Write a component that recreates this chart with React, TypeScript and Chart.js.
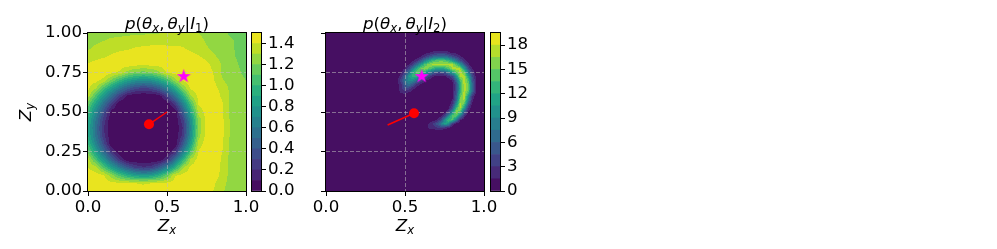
import React, { useEffect, useRef } from "react";
import { Chart, registerables } from "chart.js";

Chart.register(...registerables);

/* ---------------- data ---------------- */
const X_TICKS = [0, 0.5, 1.0];
const Y_TICKS = [0, 0.25, 0.5, 0.75, 1.0];
const CB1_TICKS = [0, 0.2, 0.4, 0.6, 0.8, 1.0, 1.2, 1.4];
const CB2_TICKS = [0, 3, 6, 9, 12, 15, 18];

const P1_LEVELS = [0, 0.1, 0.2, 0.3, 0.4, 0.5, 0.6, 0.7, 0.8, 0.9, 1.0, 1.1, 1.2, 1.3, 1.4, 1.5];
const P2_LEVELS = [0, 1.5, 3, 4.5, 6, 7.5, 9, 10.5, 12, 13.5, 15, 16.5, 18, 19.5];

// panel 1 grid (x left->right, y top->bottom)
const P1_XS = [0, 0.05, 0.1, 0.15, 0.2, 0.25, 0.3, 0.35, 0.4, 0.45, 0.5, 0.55, 0.6, 0.65, 0.7, 0.75, 0.8, 0.85, 0.9, 0.95, 1.0];
const P1_YS = [1.0, 0.95, 0.9, 0.85, 0.8, 0.75, 0.7, 0.65, 0.6, 0.55, 0.5, 0.45, 0.4, 0.35, 0.3, 0.25, 0.2, 0.15, 0.1, 0.05, 0];
const P1_Z = [
  [1.24, 1.25, 1.26, 1.27, 1.27, 1.28, 1.28, 1.285, 1.29, 1.295, 1.31, 1.33, 1.34, 1.33, 1.30, 1.27, 1.25, 1.22, 1.19, 1.17, 1.15],
  [1.27, 1.285, 1.30, 1.32, 1.33, 1.34, 1.35, 1.36, 1.36, 1.37, 1.37, 1.37, 1.37, 1.36, 1.33, 1.29, 1.26, 1.23, 1.21, 1.19, 1.17],
  [1.29, 1.32, 1.34, 1.36, 1.38, 1.39, 1.41, 1.42, 1.43, 1.43, 1.42, 1.42, 1.41, 1.38, 1.35, 1.31, 1.28, 1.25, 1.21, 1.19, 1.17],
  [1.35, 1.37, 1.39, 1.42, 1.44, 1.46, 1.47, 1.47, 1.47, 1.47, 1.47, 1.46, 1.45, 1.44, 1.41, 1.37, 1.31, 1.27, 1.22, 1.19, 1.17],
  [1.41, 1.44, 1.46, 1.47, 1.46, 1.45, 1.43, 1.42, 1.43, 1.44, 1.46, 1.48, 1.48, 1.47, 1.46, 1.43, 1.36, 1.29, 1.25, 1.20, 1.18],
  [1.46, 1.47, 1.46, 1.43, 1.38, 1.26, 1.19, 1.16, 1.19, 1.28, 1.41, 1.44, 1.46, 1.48, 1.48, 1.45, 1.39, 1.28, 1.24, 1.21, 1.18],
  [1.45, 1.43, 1.37, 1.17, 0.99, 0.85, 0.76, 0.72, 0.75, 0.86, 1.02, 1.26, 1.42, 1.46, 1.48, 1.48, 1.40, 1.31, 1.26, 1.23, 1.20],
  [1.42, 1.31, 1.05, 0.82, 0.61, 0.44, 0.33, 0.28, 0.32, 0.44, 0.64, 0.89, 1.21, 1.42, 1.46, 1.48, 1.43, 1.36, 1.28, 1.24, 1.20],
  [1.35, 1.06, 0.77, 0.51, 0.26, 0.06, 0, 0, 0, 0.03, 0.26, 0.55, 0.91, 1.29, 1.43, 1.47, 1.46, 1.38, 1.29, 1.25, 1.22],
  [1.15, 0.85, 0.54, 0.25, 0, 0, 0, 0, 0, 0, 0, 0.24, 0.63, 1.06, 1.41, 1.46, 1.48, 1.41, 1.28, 1.25, 1.23],
  [1.02, 0.69, 0.36, 0.04, 0, 0, 0, 0, 0, 0, 0, 0, 0.41, 0.88, 1.34, 1.44, 1.48, 1.42, 1.28, 1.25, 1.23],
  [0.92, 0.59, 0.25, 0, 0, 0, 0, 0, 0, 0, 0, 0, 0.26, 0.74, 1.24, 1.43, 1.47, 1.42, 1.29, 1.25, 1.23],
  [0.89, 0.55, 0.20, 0, 0, 0, 0, 0, 0, 0, 0, 0, 0.20, 0.70, 1.24, 1.44, 1.48, 1.42, 1.29, 1.26, 1.24],
  [0.91, 0.57, 0.23, 0, 0, 0, 0, 0, 0, 0, 0, 0, 0.24, 0.73, 1.26, 1.44, 1.48, 1.42, 1.29, 1.26, 1.24],
  [0.99, 0.66, 0.33, 0, 0, 0, 0, 0, 0, 0, 0, 0, 0.38, 0.85, 1.35, 1.45, 1.48, 1.42, 1.28, 1.26, 1.24],
  [1.15, 0.83, 0.51, 0.20, 0, 0, 0, 0, 0, 0, 0, 0.18, 0.61, 1.05, 1.41, 1.46, 1.48, 1.40, 1.28, 1.25, 1.23],
  [1.35, 1.05, 0.76, 0.47, 0.20, 0, 0, 0, 0, 0, 0.18, 0.52, 0.92, 1.32, 1.44, 1.47, 1.48, 1.38, 1.27, 1.25, 1.23],
  [1.40, 1.34, 1.08, 0.83, 0.60, 0.41, 0.27, 0.21, 0.25, 0.41, 0.64, 0.93, 1.28, 1.42, 1.46, 1.48, 1.47, 1.37, 1.27, 1.25, 1.23],
  [1.45, 1.44, 1.41, 1.24, 1.06, 0.92, 0.82, 0.78, 0.81, 0.94, 1.13, 1.39, 1.43, 1.46, 1.48, 1.48, 1.46, 1.36, 1.27, 1.24, 1.22],
  [1.47, 1.47, 1.45, 1.43, 1.41, 1.40, 1.40, 1.39, 1.40, 1.40, 1.42, 1.44, 1.46, 1.48, 1.48, 1.46, 1.41, 1.34, 1.26, 1.24, 1.22],
  [1.46, 1.47, 1.47, 1.46, 1.45, 1.44, 1.44, 1.44, 1.44, 1.45, 1.46, 1.47, 1.48, 1.48, 1.47, 1.45, 1.39, 1.31, 1.26, 1.24, 1.22],
];

// panel 2 grid block (values outside the block are 0)
const P2_XS = [0.4, 0.425, 0.45, 0.475, 0.5, 0.525, 0.55, 0.575, 0.6, 0.625, 0.65, 0.675, 0.7, 0.725, 0.75, 0.775, 0.8, 0.825, 0.85, 0.875, 0.9, 0.925, 0.95, 0.975, 1.0];
const P2_YS = [0.9, 0.875, 0.85, 0.825, 0.8, 0.775, 0.75, 0.725, 0.7, 0.675, 0.65, 0.625, 0.6, 0.575, 0.55, 0.525, 0.5, 0.475, 0.45, 0.425, 0.4, 0.375, 0.35];
const P2_Z = [
  [0, 0, 0, 0, 0, 0, 0, 0, 0, 0, 0, 0.4, 0.6, 0.7, 0.6, 0.4, 0, 0, 0, 0, 0, 0, 0, 0, 0],
  [0, 0, 0, 0, 0, 0, 0, 0, 0.3, 0.8, 1.3, 2, 2.4, 2.5, 2.4, 2, 1.2, 1, 0.5, 0, 0, 0, 0, 0, 0],
  [0, 0, 0, 0, 0, 0, 0.2, 0.6, 1.5, 2.9, 4.6, 6, 7.1, 7.4, 7.2, 5.9, 4.5, 3.2, 1.8, 0.7, 0.1, 0, 0, 0, 0],
  [0, 0, 0, 0, 0, 0.4, 1.1, 2.5, 4.8, 8.2, 10.9, 13.3, 14.3, 14.7, 14.3, 12.9, 10.7, 7.6, 4.6, 2, 0.6, 0.1, 0, 0, 0],
  [0, 0, 0, 0, 0.5, 1.5, 3.6, 6.9, 10.5, 13.9, 16, 16.8, 16.8, 16.8, 17.1, 17.1, 16.9, 14.4, 10.6, 5.7, 2, 0.4, 0, 0, 0],
  [0, 0, 0, 0.4, 1.6, 3.9, 8, 12.2, 15, 16, 14.9, 13, 11.5, 10.9, 12, 14.2, 16.6, 17.3, 16.4, 10.7, 4.6, 1.3, 0.2, 0, 0],
  [0, 0, 0.3, 1.2, 3.7, 7.7, 12.2, 14.6, 14.3, 12, 8.6, 6.1, 4.6, 4.3, 4.9, 7.2, 10.9, 14.6, 17.3, 15.1, 8.2, 2.9, 0.6, 0, 0],
  [0, 0.1, 0.6, 2.4, 5.8, 10.3, 12.7, 12.3, 9.1, 5.9, 3.5, 1.8, 1.1, 0.9, 1.2, 2.3, 4.3, 10, 16.6, 17.2, 11.8, 4.6, 1, 0.2, 0],
  [0, 0.2, 1.2, 3.6, 7.3, 9.8, 9.4, 6.7, 4.2, 1.9, 0.9, 0.3, 0.1, 0.1, 0.2, 0.5, 1.8, 6.2, 13.9, 17.4, 13.9, 5.9, 1.5, 0.2, 0],
  [0.1, 0.3, 0.7, 2.6, 6, 7.3, 5.2, 2.7, 1.1, 0.4, 0, 0, 0, 0, 0, 0.2, 0.9, 4.6, 12.6, 17.4, 14.8, 6.8, 1.4, 0.3, 0],
  [0, 0.1, 0.6, 2.6, 4.6, 3.9, 2.1, 0.8, 0.2, 0, 0, 0, 0, 0, 0, 0, 0.7, 4.4, 12, 17.4, 14.9, 7.2, 1.4, 0.2, 0],
  [0, 0.1, 0.8, 1.8, 2.2, 1.5, 0.6, 0, 0, 0, 0, 0, 0, 0, 0, 0.1, 1, 5, 12.7, 17.4, 14.3, 6.4, 1.2, 0.2, 0],
  [0, 0, 0, 0.3, 0.4, 0.2, 0, 0, 0, 0, 0, 0, 0, 0, 0, 0, 1.1, 5.7, 14.6, 17.2, 10.2, 2.9, 0.4, 0, 0],
  [0, 0, 0, 0, 0, 0, 0, 0, 0, 0, 0, 0, 0, 0, 0, 0.2, 1.5, 6.7, 15.5, 16.9, 8.6, 2, 0.2, 0, 0],
  [0, 0, 0, 0, 0, 0, 0, 0, 0, 0, 0, 0, 0, 0, 0, 0.3, 2.6, 9.3, 17, 14.3, 5.8, 1.1, 0.1, 0, 0],
  [0, 0, 0, 0, 0, 0, 0, 0, 0, 0, 0, 0, 0, 0, 0, 1, 4.9, 13.4, 17, 10.5, 2.9, 0.4, 0, 0, 0],
  [0, 0, 0, 0, 0, 0, 0, 0, 0, 0, 0, 0, 0, 0, 0.6, 3.3, 9.6, 16.1, 13.8, 5.7, 1, 0, 0, 0, 0],
  [0, 0, 0, 0, 0, 0, 0, 0, 0, 0, 0, 0, 0, 0.8, 3.5, 8.9, 14.6, 14.5, 8.4, 2.3, 0.3, 0, 0, 0, 0],
  [0, 0, 0, 0, 0, 0, 0, 0, 0, 0, 0.3, 0.7, 1.5, 3.6, 8.7, 13.6, 13.6, 7.5, 1.6, 0.2, 0, 0, 0, 0, 0],
  [0, 0, 0, 0, 0, 0, 0, 0, 0, 0.1, 1.6, 2.9, 4.9, 7.8, 10.9, 10.1, 3, 0.6, 0, 0, 0, 0, 0, 0, 0],
  [0, 0, 0, 0, 0, 0, 0, 0, 0, 0.5, 1.8, 2.3, 2.8, 3, 2.5, 1.2, 0.3, 0, 0, 0, 0, 0, 0, 0, 0],
  [0, 0, 0, 0, 0, 0, 0, 0, 0, 0, 0, 0, 0, 0, 0, 0, 0, 0, 0, 0, 0, 0, 0, 0, 0],
  [0, 0, 0, 0, 0, 0, 0, 0, 0, 0, 0, 0, 0, 0, 0, 0, 0, 0, 0, 0, 0, 0, 0, 0, 0],
];

// markers
const P1_SEGMENT = [{ x: 0.386, y: 0.422 }, { x: 0.5, y: 0.5 }];
const P1_DOT = [{ x: 0.386, y: 0.422 }];
const P2_SEGMENT = [{ x: 0.39, y: 0.418 }, { x: 0.557, y: 0.492 }];
const P2_DOT = [{ x: 0.557, y: 0.492 }];
const STAR = [{ x: 0.606, y: 0.73 }];

// texts (mathtext-like segments)
type Seg = { t: string; it?: boolean; sub?: boolean; gap?: number };
const TITLE_1: Seg[] = [
  { t: "p", it: true }, { t: "(" }, { t: "θ", it: true }, { t: "x", it: true, sub: true }, { t: ",", gap: 3 },
  { t: "θ", it: true }, { t: "y", it: true, sub: true }, { t: "|" }, { t: "I", it: true }, { t: "1", sub: true }, { t: ")" },
];
const TITLE_2: Seg[] = [
  { t: "p", it: true }, { t: "(" }, { t: "θ", it: true }, { t: "x", it: true, sub: true }, { t: ",", gap: 3 },
  { t: "θ", it: true }, { t: "y", it: true, sub: true }, { t: "|" }, { t: "I", it: true }, { t: "2", sub: true }, { t: ")" },
];
const X_LABEL: Seg[] = [{ t: "Z", it: true }, { t: "x", it: true, sub: true }];
const Y_LABEL: Seg[] = [{ t: "Z", it: true }, { t: "y", it: true, sub: true }];

/* ---------------- styling helpers ---------------- */
const FS = 16.67;
const FAMILY = '"DejaVu Sans", sans-serif';
const FONT = { family: FAMILY, size: FS };
const GRID_COLOR = "rgba(190,190,190,0.55)";

const VIRIDIS = [
  "#440154", "#48186a", "#472d7b", "#424086", "#3b528b", "#33638d", "#2c728e", "#26828e", "#21918c",
  "#1fa088", "#28ae80", "#3fbc73", "#5ec962", "#84d44b", "#addc30", "#d8e219", "#fde725",
];
const VIR_RGB = VIRIDIS.map((h) => [parseInt(h.slice(1, 3), 16), parseInt(h.slice(3, 5), 16), parseInt(h.slice(5, 7), 16)]);
function viridis(t: number) {
  const tt = Math.max(0, Math.min(1, t));
  const n = VIR_RGB.length - 1;
  const f = tt * n;
  const i = Math.min(Math.floor(f), n - 1);
  const u = f - i;
  const a = VIR_RGB[i];
  const b = VIR_RGB[i + 1];
  return `rgb(${Math.round(a[0] + (b[0] - a[0]) * u)},${Math.round(a[1] + (b[1] - a[1]) * u)},${Math.round(a[2] + (b[2] - a[2]) * u)})`;
}
function bandColors(levels: number[]) {
  const nb = levels.length - 1;
  return Array.from({ length: nb }, (_, k) => viridis((k + 0.5) / nb));
}
function bandIndex(v: number, levels: number[]) {
  const nb = levels.length - 1;
  for (let k = nb - 1; k >= 1; k--) if (v >= levels[k]) return k;
  return 0;
}
function makeSampler(xs: number[], ys: number[], z: number[][]) {
  const nx = xs.length;
  const ny = ys.length;
  const dx = xs[1] - xs[0];
  const dy = ys[0] - ys[1];
  return (x: number, y: number) => {
    if (x < xs[0] || x > xs[nx - 1] || y > ys[0] || y < ys[ny - 1]) return 0;
    const fi = (x - xs[0]) / dx;
    const fj = (ys[0] - y) / dy;
    const i = Math.min(Math.floor(fi), nx - 2);
    const j = Math.min(Math.floor(fj), ny - 2);
    const u = fi - i;
    const w = fj - j;
    return (
      z[j][i] * (1 - u) * (1 - w) + z[j][i + 1] * u * (1 - w) + z[j + 1][i] * (1 - u) * w + z[j + 1][i + 1] * u * w
    );
  };
}

function drawMath(ctx: CanvasRenderingContext2D, segs: Seg[], x: number, y: number, size: number, rotate = false) {
  const font = (s: Seg) => `${s.it ? "italic " : ""}${s.sub ? size * 0.7 : size}px ${FAMILY}`;
  const widths = segs.map((s) => {
    ctx.font = font(s);
    return ctx.measureText(s.t).width + (s.gap || 0);
  });
  const total = widths.reduce((a, b) => a + b, 0);
  ctx.save();
  ctx.translate(x, y);
  if (rotate) ctx.rotate(-Math.PI / 2);
  ctx.fillStyle = "#000";
  ctx.textAlign = "left";
  ctx.textBaseline = "alphabetic";
  let cx = -total / 2;
  segs.forEach((s, i) => {
    ctx.font = font(s);
    ctx.fillText(s.t, cx, s.sub ? size * 0.2 : 0);
    cx += widths[i];
  });
  ctx.restore();
}

function makeStar(r: number, color: string) {
  const size = Math.ceil(r * 2 + 2);
  const c = document.createElement("canvas");
  c.width = size;
  c.height = size;
  const g = c.getContext("2d")!;
  g.translate(size / 2, size / 2 + r * 0.1);
  g.beginPath();
  for (let k = 0; k < 10; k++) {
    const rad = k % 2 === 0 ? r : r * 0.382;
    const ang = -Math.PI / 2 + (k * Math.PI) / 5;
    g.lineTo(rad * Math.cos(ang), rad * Math.sin(ang));
  }
  g.closePath();
  g.fillStyle = color;
  g.fill();
  return c;
}

function contourPlugin(levels: number[], sample: (x: number, y: number) => number) {
  const colors = bandColors(levels);
  return {
    id: "contourf",
    beforeDraw(chart: any) {
      const { ctx, chartArea: a, scales } = chart;
      const sx = scales.x;
      const sy = scales.y;
      ctx.save();
      const L = Math.round(a.left);
      const R = Math.round(a.right);
      const T = Math.round(a.top);
      const B = Math.round(a.bottom);
      for (let py = T; py < B; py++) {
        const vy = sy.getValueForPixel(py + 0.5);
        let runStart = L;
        let runColor: string | null = null;
        for (let px = L; px <= R; px++) {
          let col: string | null = null;
          if (px < R) {
            const vx = sx.getValueForPixel(px + 0.5);
            col = colors[bandIndex(sample(vx, vy), levels)];
          }
          if (col !== runColor) {
            if (runColor) {
              ctx.fillStyle = runColor;
              ctx.fillRect(runStart, py, px - runStart, 1);
            }
            runColor = col;
            runStart = px;
          }
        }
      }
      ctx.restore();
    },
  };
}

function decoPlugin(title: Seg[], showYLabel: boolean) {
  return {
    id: "deco",
    afterDraw(chart: any) {
      const { ctx, chartArea: a } = chart;
      ctx.save();
      ctx.strokeStyle = "#000";
      ctx.lineWidth = 1;
      ctx.strokeRect(a.left - 0.5, a.top - 0.5, a.right - a.left + 1, a.bottom - a.top + 1);
      ctx.restore();
      const cx = (a.left + a.right) / 2;
      drawMath(ctx, title, cx, 28.5, FS);
      drawMath(ctx, X_LABEL, cx, 231, FS);
      if (showYLabel) drawMath(ctx, Y_LABEL, 31, (a.top + a.bottom) / 2, FS, true);
    },
  };
}

function frameOnly() {
  return {
    id: "frame",
    afterDraw(chart: any) {
      const { ctx, chartArea: a } = chart;
      ctx.save();
      ctx.strokeStyle = "#000";
      ctx.lineWidth = 1;
      ctx.strokeRect(a.left - 0.5, a.top - 0.5, a.right - a.left + 1, a.bottom - a.top + 1);
      ctx.restore();
    },
  };
}

const edgeAwareGrid = (ctx: any) => {
  const v = ctx.tick ? ctx.tick.value : null;
  return v === 0 || v === 1 ? "rgba(0,0,0,0)" : GRID_COLOR;
};

function heatConfig(p: {
  levels: number[];
  sample: (x: number, y: number) => number;
  segment: { x: number; y: number }[];
  dot: { x: number; y: number }[];
  star: { x: number; y: number }[];
  starImg: HTMLCanvasElement;
  title: Seg[];
  yLabels: boolean;
  yWidth: number;
}): any {
  return {
    type: "scatter",
    data: {
      datasets: [
        { data: p.segment, showLine: true, borderColor: "#ff0000", borderWidth: 1.5, pointRadius: 0, order: 3 },
        { data: p.dot, pointRadius: 5, backgroundColor: "#ff0000", borderWidth: 0, order: 2 },
        { data: p.star, pointStyle: p.starImg, pointRadius: 7, order: 1 },
      ],
    },
    options: {
      animation: false,
      responsive: false,
      events: [],
      layout: { autoPadding: false, padding: { top: 33, right: 20, left: 0, bottom: 0 } },
      plugins: { legend: { display: false }, tooltip: { enabled: false }, title: { display: false } },
      scales: {
        x: {
          type: "linear",
          position: "bottom",
          min: 0,
          max: 1,
          afterBuildTicks: (s: any) => {
            s.ticks = X_TICKS.map((v) => ({ value: v }));
          },
          afterFit: (s: any) => {
            s.height = 58;
          },
          ticks: {
            font: FONT,
            color: "#000",
            padding: 2,
            maxRotation: 0,
            autoSkip: false,
            callback: (v: any) => Number(v).toFixed(1),
          },
          grid: { color: edgeAwareGrid, lineWidth: 1, drawTicks: true, tickLength: 5, tickColor: "#000", tickWidth: 1 },
          border: { display: false, dash: [4, 2] },
        },
        y: {
          type: "linear",
          position: "left",
          min: 0,
          max: 1,
          afterBuildTicks: (s: any) => {
            s.ticks = Y_TICKS.map((v) => ({ value: v }));
          },
          afterFit: (s: any) => {
            s.width = p.yWidth;
          },
          ticks: {
            display: p.yLabels,
            font: FONT,
            color: "#000",
            padding: 1,
            autoSkip: false,
            callback: (v: any) => Number(v).toFixed(2),
          },
          grid: { color: edgeAwareGrid, lineWidth: 1, drawTicks: true, tickLength: 5, tickColor: "#000", tickWidth: 1 },
          border: { display: false, dash: [4, 2] },
        },
      },
    },
    plugins: [contourPlugin(p.levels, p.sample), decoPlugin(p.title, p.yLabels)],
  };
}

function colorbarConfig(levels: number[], ticks: number[], fmt: (v: number) => string): any {
  const colors = bandColors(levels);
  const datasets = colors.map((c, k) => ({
    data: [[levels[k], levels[k + 1]]],
    backgroundColor: c,
    borderWidth: 0,
    barPercentage: 1,
    categoryPercentage: 1,
    grouped: false,
  }));
  return {
    type: "bar",
    data: { labels: ["cb"], datasets },
    options: {
      animation: false,
      responsive: false,
      events: [],
      layout: { autoPadding: false, padding: { top: 33, right: 0, left: 6, bottom: 58 } },
      plugins: { legend: { display: false }, tooltip: { enabled: false } },
      scales: {
        x: { display: false },
        y: {
          position: "right",
          min: levels[0],
          max: levels[levels.length - 1],
          afterBuildTicks: (s: any) => {
            s.ticks = ticks.map((v) => ({ value: v }));
          },
          afterFit: (s: any) => {
            s.width = 45;
          },
          ticks: { font: FONT, color: "#000", padding: 2, autoSkip: false, callback: (v: any) => fmt(Number(v)) },
          grid: { drawOnChartArea: false, drawTicks: true, tickLength: 5, tickColor: "#000", tickWidth: 1 },
          border: { display: false },
        },
      },
    },
    plugins: [frameOnly()],
  };
}

export default function App() {
  const h1 = useRef<HTMLCanvasElement>(null);
  const c1 = useRef<HTMLCanvasElement>(null);
  const h2 = useRef<HTMLCanvasElement>(null);
  const c2 = useRef<HTMLCanvasElement>(null);

  useEffect(() => {
    const starImg = makeStar(7.5, "#ff00ff");
    const charts = [
      new Chart(
        h1.current!,
        heatConfig({
          levels: P1_LEVELS,
          sample: makeSampler(P1_XS, P1_YS, P1_Z),
          segment: P1_SEGMENT,
          dot: P1_DOT,
          star: STAR,
          starImg,
          title: TITLE_1,
          yLabels: true,
          yWidth: 88,
        })
      ),
      new Chart(c1.current!, colorbarConfig(P1_LEVELS, CB1_TICKS, (v) => v.toFixed(1))),
      new Chart(
        h2.current!,
        heatConfig({
          levels: P2_LEVELS,
          sample: makeSampler(P2_XS, P2_YS, P2_Z),
          segment: P2_SEGMENT,
          dot: P2_DOT,
          star: STAR,
          starImg,
          title: TITLE_2,
          yLabels: false,
          yWidth: 76,
        })
      ),
      new Chart(c2.current!, colorbarConfig(P2_LEVELS, CB2_TICKS, (v) => String(Math.round(v)))),
    ];
    return () => charts.forEach((c) => c.destroy());
  }, []);

  const cv = (left: number, width: number) => ({
    position: "absolute" as const,
    left,
    top: 0,
    width,
    height: 249,
  });

  return (
    <div style={{ position: "absolute", left: 0, top: 0, width: 997, height: 249, background: "#fff", overflow: "hidden" }}>
      <canvas ref={h1} width={266} height={249} style={cv(0, 266)} />
      <canvas ref={c1} width={60} height={249} style={cv(246, 60)} />
      <canvas ref={h2} width={254} height={249} style={cv(250, 254)} />
      <canvas ref={c2} width={60} height={249} style={cv(485, 60)} />
    </div>
  );
}
